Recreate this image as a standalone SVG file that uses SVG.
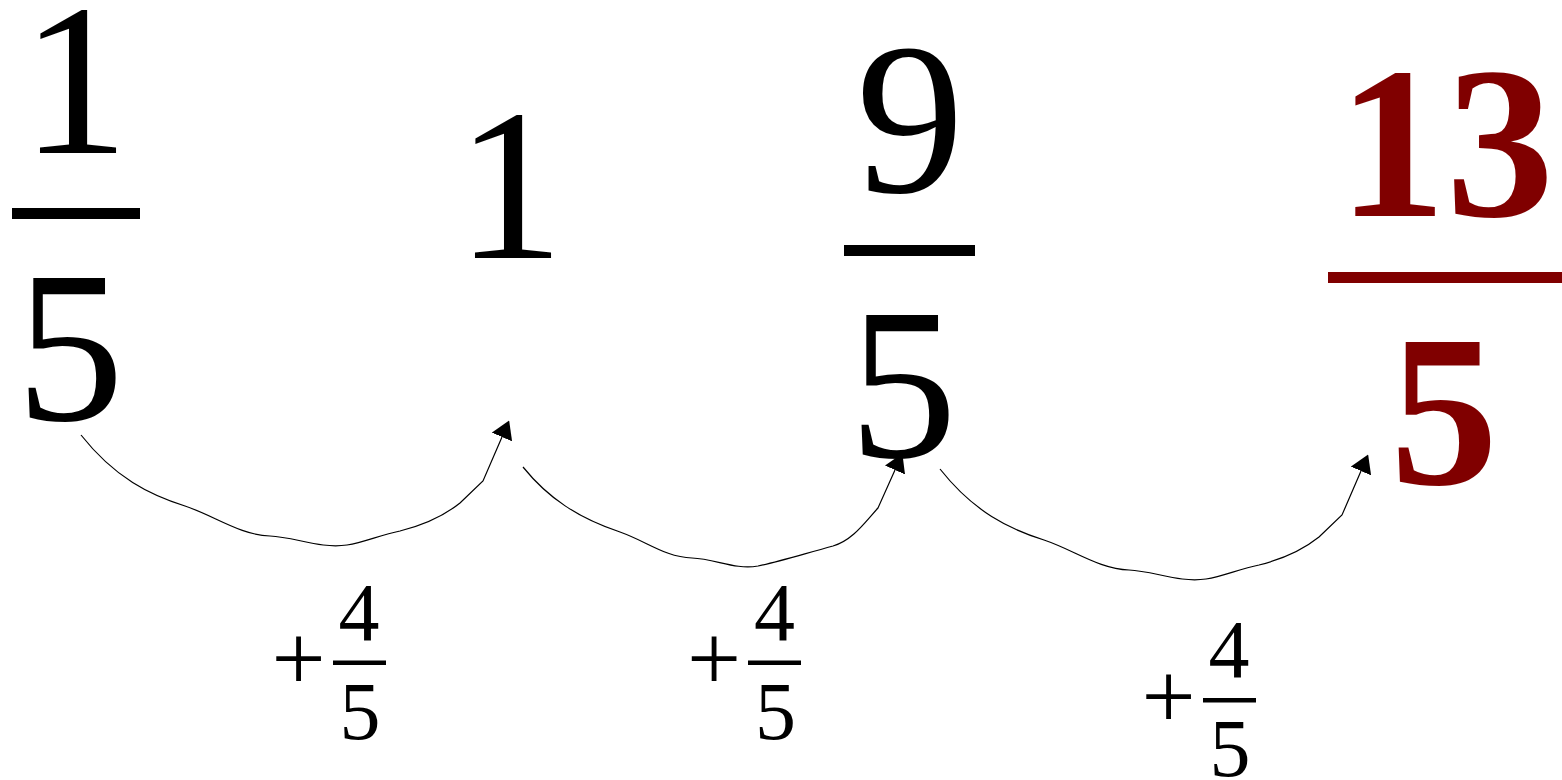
<svg xmlns="http://www.w3.org/2000/svg" width="1562" height="780" viewBox="0 0 1562 780">
<defs>
<style>
.big{font-family:"Liberation Serif","Times New Roman",serif;font-size:216px;text-anchor:middle;fill:#000}
.red{fill:#800000;font-weight:bold}
.lab{font-family:"Liberation Serif","Times New Roman",serif;font-size:82px;text-anchor:middle;fill:#000}
.plus{font-size:96px}
.conn{fill:none;stroke:#000;stroke-width:1.2}
</style>
<marker id="ah" viewBox="0 0 18 22" markerWidth="18" markerHeight="22" refX="0" refY="11" orient="auto" markerUnits="userSpaceOnUse">
<path d="M0,0 L18,11 L0,22 z" fill="#000"/>
</marker>
</defs>
<rect width="1562" height="780" fill="#fff"/>
<g id="n1">
<text class="big" x="75" y="153">1</text>
<rect x="12" y="208" width="128" height="11" fill="#000"/>
<text class="big" x="70" y="420">5</text>
</g>
<g id="n2">
<text class="big" x="510" y="258">1</text>
</g>
<g id="n3">
<text class="big" x="910" y="192">9</text>
<rect x="844" y="245" width="131" height="11" fill="#000"/>
<text class="big" x="903" y="457">5</text>
</g>
<g id="n4">
<text class="big red" x="1446" y="216">13</text>
<rect x="1328" y="272" width="240" height="11" fill="#800000"/>
<text class="big red" x="1444" y="484">5</text>
</g>
<g id="connectors">
<path class="conn" marker-end="url(#ah)" d="M81,435 C115,478 150,495 185,506 C215,516 240,535 270,536 C295,537 320,549 347,545 C365,542 380,535 400,531 C428,524 445,515 460,503 L483,481 L502,437"/>
<path class="conn" marker-end="url(#ah)" d="M523,467 C548,498 578,518 620,532 C648,542 665,557 692,558 C716,559 735,570 758,566 C778,562 800,555 833,546 C853,540 865,522 878,508 L895,470"/>
<path class="conn" marker-end="url(#ah)" transform="translate(859,34)" d="M81,435 C115,478 150,495 185,506 C215,516 240,535 270,536 C295,537 320,549 347,545 C365,542 380,535 400,531 C428,524 445,515 460,503 L483,481 L502,437"/>
</g>
<g id="label1">
<text class="lab plus" x="298.5" y="690">+</text>
<text class="lab" x="359" y="640">4</text>
<rect x="333" y="660.5" width="53" height="4.5" fill="#000"/>
<text class="lab" x="360" y="739">5</text>
</g>
<g id="label2">
<text class="lab plus" x="714" y="690">+</text>
<text class="lab" x="774.5" y="640">4</text>
<rect x="748" y="660.5" width="53" height="4.5" fill="#000"/>
<text class="lab" x="775.5" y="739">5</text>
</g>
<g id="label3">
<text class="lab plus" x="1168.5" y="728">+</text>
<text class="lab" x="1229" y="677">4</text>
<rect x="1203" y="698" width="53" height="4.5" fill="#000"/>
<text class="lab" x="1230" y="776">5</text>
</g>
</svg>
